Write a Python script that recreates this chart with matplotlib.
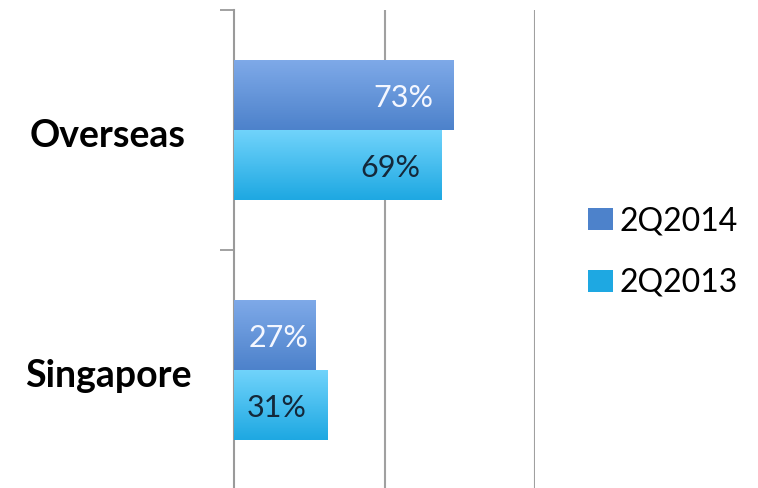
import numpy as np
import matplotlib
matplotlib.use("Agg")
import matplotlib.pyplot as plt
import matplotlib.transforms as mtransforms
from matplotlib.colors import LinearSegmentedColormap

categories = ["Singapore", "Overseas"]
series = ["2Q2014", "2Q2013"]
values_2014 = [27, 73]
values_2013 = [31, 69]

colors_top = ["#7ea9e8", "#70d3fb"]
colors_bot = ["#4d82cb", "#1ea8e2"]
label_colors = ["#f4f7ff", "#14283a"]

fig = plt.figure(figsize=(7.58, 4.88), dpi=100)
ax = fig.add_axes([234 / 758, -2 / 488, 301 / 758, 480 / 488])

y = np.arange(len(categories))
h = 0.29
offsets = [h / 2, -h / 2]
grad = np.linspace(0, 1, 64).reshape(-1, 1)

for k, vals in enumerate([values_2014, values_2013]):
    bars = ax.barh(y + offsets[k], vals, height=h, color=colors_bot[k],
                   label=series[k], zorder=3, linewidth=0)
    cmap = LinearSegmentedColormap.from_list("g%d" % k, [colors_bot[k], colors_top[k]])
    for b, v in zip(bars, vals):
        x0, y0 = b.get_x(), b.get_y()
        im = ax.imshow(grad, extent=[x0, x0 + b.get_width(), y0, y0 + b.get_height()],
                       origin="lower", aspect="auto", cmap=cmap, zorder=4)
        im.set_clip_path(b)
        # short bars: label pushed nearly to the bar end
        pad = -15 if v > 30 else -5
        ax.annotate("%d%%" % v, (v, y0 + b.get_height() / 2), xytext=(pad, -2),
                    textcoords="offset points", ha="right", va="center",
                    fontsize=22, color=label_colors[k], family="Lato", zorder=5)

ax.set_xlim(0, 100)
ax.set_ylim(-0.5, 1.5)

for s in ["top", "right", "bottom"]:
    ax.spines[s].set_visible(False)
ax.spines["left"].set_color("#9a9a9a")
ax.spines["left"].set_linewidth(1.5)

ax.set_xticks([50, 100])
ax.xaxis.grid(True, color="#a0a0a0", linewidth=1.5, zorder=0)
ax.tick_params(axis="x", length=0, labelbottom=False)
ax.set_yticks([])
ax.set_yticks([-0.5, 0.5, 1.5], minor=True)
ax.tick_params(axis="y", which="minor", length=10, width=1.3, color="#9a9a9a", labelleft=False)

# category labels, centred in the left margin
trans = mtransforms.blended_transform_factory(fig.transFigure, ax.transData)
trans = trans + mtransforms.ScaledTranslation(0, -4 / 72, fig.dpi_scale_trans)
for yi, cat in zip(y, categories):
    fig.text(108 / 758, yi, cat, transform=trans, ha="center", va="center",
             fontsize=27, fontweight="bold", family="Lato")

leg = ax.legend(loc="center left", bbox_to_anchor=(588 / 758, 1 - 252 / 488),
                bbox_transform=fig.transFigure, frameon=False, borderpad=0,
                borderaxespad=0, handlelength=0.78, handleheight=0.7,
                handletextpad=0.22, labelspacing=1.0,
                prop={"family": "Lato", "size": 23})
for k, p in enumerate(leg.get_patches()):
    p.set_facecolor(colors_bot[k])

fig.savefig("out.png", dpi=100)
